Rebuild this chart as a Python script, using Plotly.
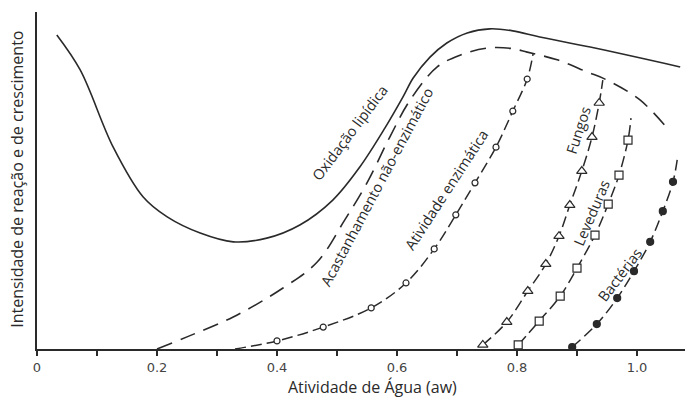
import plotly.graph_objects as go

# ---- data (aw on x, relative intensity 0-100 on y) ----
ox_x = [0.033, 0.072, 0.127, 0.177, 0.217, 0.272, 0.327,
        0.383, 0.438, 0.493, 0.538, 0.580, 0.610, 0.627, 0.655, 0.683, 0.717, 0.755,
        0.793, 0.838, 0.922, 1.072]
ox_y = [93.2, 82.8, 59.9, 45.1, 39.2, 34.4, 31.8,
        32.9, 36.8, 44.2, 54.0, 65.6, 74.8, 80.4, 86.6, 90.8, 93.8, 95.0,
        94.4, 92.6, 89.6, 83.7]

br_x = [0.200, 0.250, 0.327, 0.410, 0.467, 0.513, 0.550, 0.588, 0.622, 0.667,
        0.705, 0.750, 0.790, 0.817, 0.867, 0.917, 0.950, 1.005, 1.050]
br_y = [0.0, 3.6, 9.5, 18.1, 25.8, 38.3, 49.3, 62.9, 73.9, 83.7,
        87.2, 89.3, 89.2, 88.1, 85.8, 82.2, 79.8, 73.9, 65.6]

enz_x = [0.400, 0.477, 0.557, 0.615, 0.662, 0.698, 0.730, 0.765, 0.793, 0.817]
enz_y = [2.4, 6.5, 12.2, 19.6, 29.7, 39.8, 49.3, 59.9, 70.6, 80.1]
enz_start = (0.330, 0.0)
enz_end = (0.827, 87.8)

fun_x = [0.743, 0.783, 0.818, 0.848, 0.870, 0.888, 0.908, 0.925, 0.937]
fun_y = [1.2, 8.0, 17.2, 25.2, 33.5, 42.7, 52.8, 62.9, 73.0]
fun_end = (0.943, 79.8)

lev_x = [0.802, 0.837, 0.872, 0.900, 0.930, 0.952, 0.970, 0.985]
lev_y = [1.2, 8.3, 15.7, 24.0, 33.8, 43.0, 51.6, 62.0]
lev_end = (0.990, 68.5)

bac_x = [0.892, 0.933, 0.967, 0.995, 1.022, 1.043, 1.060]
bac_y = [0.6, 7.4, 15.1, 23.1, 31.8, 40.9, 49.6]
bac_end = (1.067, 56.1)

tick_vals = [0, 0.1, 0.2, 0.3, 0.4, 0.5, 0.6, 0.7, 0.8, 0.9, 1.0]
tick_text = ["0", "", "0.2", "", "0.4", "", "0.6", "", "0.8", "", "1.0"]

labels = [
    ("Oxidação lipídica", 0.522, 64.1, -53),
    ("Acastanhamento não-enzimático", 0.567, 48.1, -62),
    ("Atividade enzimática", 0.683, 47.2, -57),
    ("Fungos", 0.903, 65.0, -72),
    ("Leveduras", 0.925, 40.4, -67),
    ("Bactérias", 0.972, 22.0, -53),
]

INK = "#2a2a2a"
FONT = "Open Sans"

fig = go.Figure()

fig.add_trace(go.Scatter(x=ox_x, y=ox_y, mode="lines", line=dict(color=INK, width=1.6, shape="spline"),
                         showlegend=False, hoverinfo="skip"))
fig.add_trace(go.Scatter(x=br_x, y=br_y, mode="lines",
                         line=dict(color=INK, width=1.6, shape="spline", dash="16px,9px"),
                         showlegend=False, hoverinfo="skip"))

def marker_curve(mx, my, start, end, symbol, size, fill):
    lx = ([start[0]] if start else []) + mx + [end[0]]
    ly = ([start[1]] if start else []) + my + [end[1]]
    fig.add_trace(go.Scatter(x=lx, y=ly, mode="lines",
                             line=dict(color=INK, width=1.5, shape="spline", dash="11px,5px"),
                             showlegend=False, hoverinfo="skip"))
    fig.add_trace(go.Scatter(x=mx, y=my, mode="markers",
                             marker=dict(symbol=symbol, size=size, color=fill,
                                         line=dict(color=INK, width=1.2)),
                             showlegend=False, hoverinfo="skip"))

marker_curve(enz_x, enz_y, enz_start, enz_end, "circle", 6, "white")
marker_curve(fun_x, fun_y, None, fun_end, "triangle-up", 9, "white")
marker_curve(lev_x, lev_y, None, lev_end, "square", 8, "white")
marker_curve(bac_x, bac_y, None, bac_end, "circle", 7, INK)

for txt, x, y, ang in labels:
    fig.add_annotation(x=x, y=y, text=txt, textangle=ang, showarrow=False,
                       font=dict(family=FONT, size=14.5, color=INK))

fig.add_annotation(xref="paper", yref="paper", x=0.517, y=-0.113, text="Atividade de Água (aw)",
                   showarrow=False, font=dict(family=FONT, size=16, color=INK), yanchor="middle")
fig.add_annotation(xref="paper", yref="paper", x=-0.0309, y=0.505,
                   text="Intensidade de reação e de crescimento", textangle=-90,
                   showarrow=False, font=dict(family=FONT, size=16, color=INK), xanchor="center")

fig.update_xaxes(range=[0, 1.08], showline=True, linewidth=2, linecolor=INK, showgrid=False,
                 zeroline=False, tickvals=tick_vals, ticktext=tick_text, ticks="outside",
                 ticklen=5, tickwidth=1.5, tickcolor=INK,
                 tickfont=dict(family="DejaVu Sans", size=13, color="#444"))
fig.update_yaxes(range=[0, 100], showline=True, linewidth=2, linecolor=INK, showgrid=False,
                 zeroline=False, showticklabels=False, ticks="")

fig.update_layout(width=691, height=401, margin=dict(l=37, r=6, t=12, b=52),
                  plot_bgcolor="white", paper_bgcolor="white")

fig.write_html("out.html", config={"displayModeBar": False},
               post_script="document.body.style.margin='0';document.body.style.padding='0';")
